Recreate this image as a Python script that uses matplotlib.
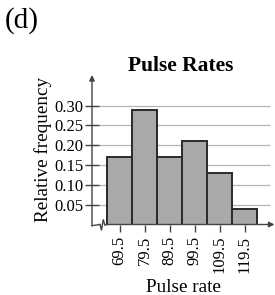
import numpy as np
import matplotlib.pyplot as plt

plt.rcParams['font.family'] = ['Liberation Serif', 'DejaVu Serif']

# relative frequency per class
classes = ["69.5", "79.5", "89.5", "99.5", "109.5", "119.5"]
freqs = [0.17, 0.29, 0.17, 0.21, 0.13, 0.04]
yticks = [0.05, 0.10, 0.15, 0.20, 0.25, 0.30]

fig = plt.figure(figsize=(2.75, 2.95), dpi=100)
ax = fig.add_axes([92/275, 70.5/295, 182.5/275, 149.5/295])

x0, x1 = -1.1, 6.2
y0, y1 = 0, 0.3775
ax.set_xlim(x0, x1)
ax.set_ylim(y0, y1)

axc = "#444444"
# grid lines
ax.hlines(yticks, x0, 6.02, color="#b5b5b5", lw=0.9, zorder=1)

pos = np.arange(len(classes))
ax.bar(pos, freqs, width=1.0, color="#a9a9a9", edgecolor="#2a2a2a", lw=1.4, zorder=3)

for s in ax.spines.values():
    s.set_visible(False)

# axes with arrows
ax.annotate("", xy=(x0, y1), xytext=(x0, -0.003), xycoords="data",
            arrowprops=dict(arrowstyle="-|>", color=axc, lw=1.0, mutation_scale=8,
                            shrinkA=0, shrinkB=0), annotation_clip=False)
zx = [-0.78, -0.72, -0.65, -0.58, -0.52]
zy = [0.0, -0.014, 0.012, -0.002, 0.0]
ax.plot([x0, zx[0]], [-0.003, 0], color=axc, lw=1.0, clip_on=False)
ax.plot(zx, zy, color=axc, lw=1.0, clip_on=False)
ax.annotate("", xy=(x1, 0), xytext=(zx[-1], 0), xycoords="data",
            arrowprops=dict(arrowstyle="-|>", color=axc, lw=1.0, mutation_scale=8,
                            shrinkA=0, shrinkB=0), annotation_clip=False)

ax.set_yticks(yticks)
ax.set_yticklabels(["%.2f" % v for v in yticks])
ax.tick_params(axis="y", direction="inout", length=10, width=1.0, color=axc,
               labelsize=12, pad=1)
ax.set_xticks(pos)
ax.set_xticklabels(classes, rotation=90)
ax.tick_params(axis="x", direction="out", length=5, width=1.0, color=axc,
               labelsize=12, pad=3)

ax.set_ylabel("Relative frequency", fontsize=13.8, labelpad=2)
ax.set_xlabel("Pulse rate", fontsize=13.8, labelpad=4)

fig.text(181/275, 1 - 66/295, "Pulse Rates", fontsize=15.5, fontweight="bold",
         ha="center", va="center")
fig.text(5/275, 1 - 21/295, "(d)", fontsize=21, ha="left", va="center")

fig.savefig("out.png", dpi=100)
